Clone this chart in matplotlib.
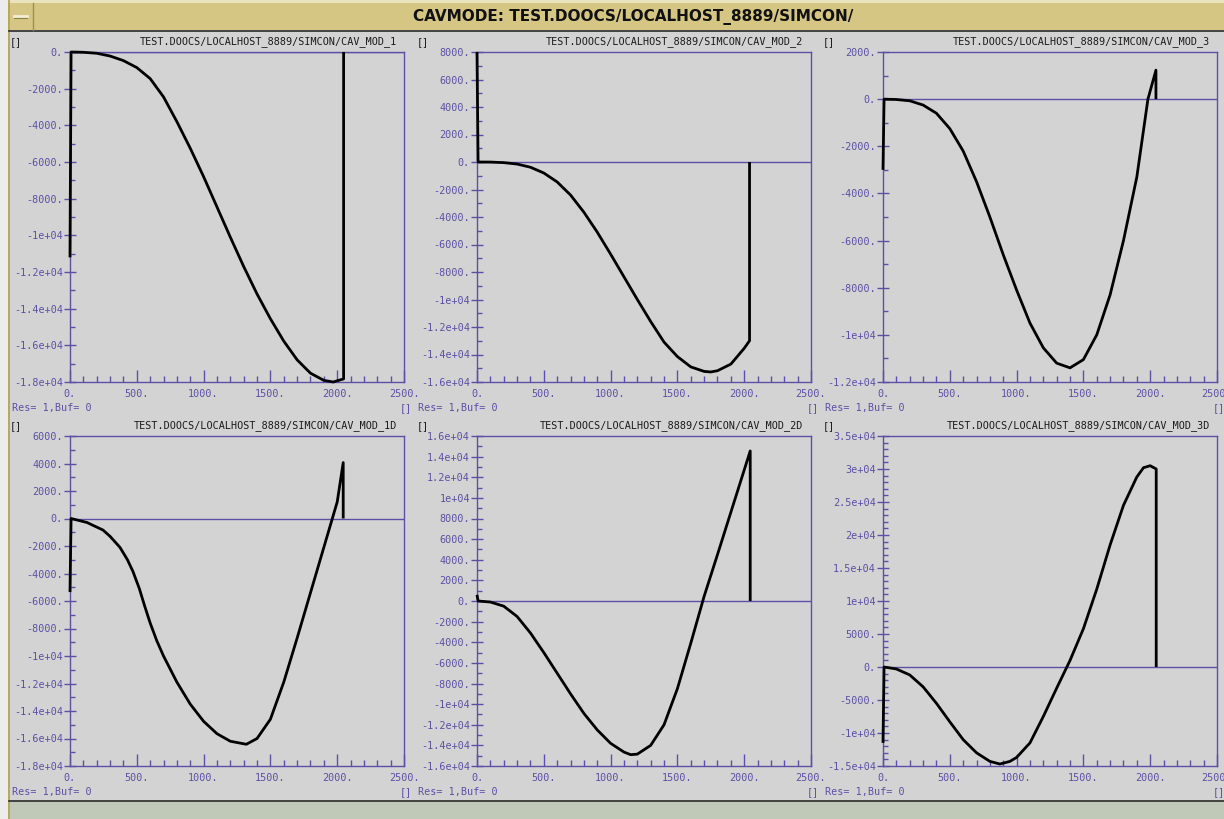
import matplotlib
matplotlib.use('Agg')
import matplotlib.pyplot as plt
from matplotlib.patches import Rectangle
from matplotlib.lines import Line2D
from matplotlib.ticker import MultipleLocator, FuncFormatter

# ---------------- data ----------------
window_title = "CAVMODE: TEST.DOOCS/LOCALHOST_8889/SIMCON/"
panel_titles = [
    "TEST.DOOCS/LOCALHOST_8889/SIMCON/CAV_MOD_1",
    "TEST.DOOCS/LOCALHOST_8889/SIMCON/CAV_MOD_2",
    "TEST.DOOCS/LOCALHOST_8889/SIMCON/CAV_MOD_3",
    "TEST.DOOCS/LOCALHOST_8889/SIMCON/CAV_MOD_1D",
    "TEST.DOOCS/LOCALHOST_8889/SIMCON/CAV_MOD_2D",
    "TEST.DOOCS/LOCALHOST_8889/SIMCON/CAV_MOD_3D",
]
status_text = "Res= 1,Buf= 0"
ylims = [(-18000, 0), (-16000, 8000), (-12000, 2000),
         (-18000, 6000), (-16000, 16000), (-15000, 35000)]
ymajor = [2000, 2000, 2000, 2000, 2000, 5000]
yminor = [1000, 1000, 1000, 1000, 1000, 1000]
xlim = (0, 2500)
xmajor = 500
xminor = 100

x_mod1 = [0, 8, 100, 200, 300, 400, 500, 600, 700, 800, 900, 1000, 1100, 1200,
          1300, 1400, 1500, 1600, 1700, 1800, 1900, 1970, 2048, 2048]
y_mod1 = [-11200, 0, -15, -70, -220, -470, -850, -1450, -2450, -3800, -5250, -6800,
          -8450, -10100, -11700, -13200, -14550, -15770, -16790, -17520, -17910,
          -18000, -17830, 0]

x_mod2 = [0, 8, 100, 200, 300, 400, 500, 600, 700, 800, 900, 1000, 1100, 1200,
          1300, 1400, 1500, 1600, 1700, 1750, 1800, 1900, 2000, 2040, 2040]
y_mod2 = [8000, 0, -5, -45, -150, -380, -800, -1450, -2400, -3650, -5100, -6700,
          -8350, -10000, -11600, -13100, -14150, -14900, -15230, -15270, -15180,
          -14700, -13550, -13000, 0]

x_mod3 = [0, 8, 100, 200, 300, 400, 500, 600, 700, 800, 900, 1000, 1100, 1200,
          1300, 1400, 1500, 1600, 1700, 1800, 1900, 1983, 2043, 2043]
y_mod3 = [-3000, 0, -15, -70, -250, -600, -1250, -2200, -3500, -5000, -6600, -8100,
          -9500, -10550, -11200, -11400, -11050, -10000, -8300, -6000, -3300, 0,
          1230, 0]

x_mod1d = [0, 8, 127, 247, 300, 374, 430, 471, 519, 560, 600, 650, 700, 800, 900,
           1000, 1100, 1200, 1320, 1400, 1500, 1600, 1700, 1800, 1900, 2000, 2045,
           2045]
y_mod1d = [-5350, 0, -290, -840, -1300, -2100, -3000, -3850, -5100, -6400, -7600,
           -8900, -10000, -11900, -13500, -14750, -15650, -16200, -16420, -16000,
           -14600, -11900, -8700, -5400, -2100, 1200, 4070, 0]

x_mod2d = [0, 8, 100, 200, 300, 400, 500, 600, 700, 800, 900, 1000, 1100, 1150,
           1200, 1300, 1400, 1500, 1600, 1700, 1800, 1900, 2000, 2045, 2045]
y_mod2d = [600, 0, -100, -500, -1500, -3100, -5000, -7000, -9000, -10900, -12500,
           -13800, -14650, -14900, -14850, -14000, -12000, -8500, -4100, 450, 4500,
           8600, 12700, 14550, 0]

x_mod3d = [0, 8, 100, 200, 300, 400, 500, 600, 700, 800, 875, 950, 1000, 1100,
           1200, 1300, 1400, 1500, 1600, 1700, 1800, 1900, 1950, 2000, 2045, 2045]
y_mod3d = [-11500, 0, -300, -1200, -3000, -5500, -8300, -11000, -13000, -14300,
           -14700, -14300, -13700, -11500, -7500, -3200, 1000, 5800, 11800, 18500,
           24500, 28800, 30200, 30500, 30000, 0]

series = [(x_mod1, y_mod1), (x_mod2, y_mod2), (x_mod3, y_mod3),
          (x_mod1d, y_mod1d), (x_mod2d, y_mod2d), (x_mod3d, y_mod3d)]

# ---------------- style ----------------
W, H = 1224, 819
PURPLE = '#5b50a6'
GRAY = '#d3d3d3'
TAN = '#d6c683'
MONO = 'DejaVu Sans Mono'
FS = 7.3

plt.rcParams['font.family'] = [MONO]

fig = plt.figure(figsize=(W / 100, H / 100), dpi=100)
fig.patch.set_facecolor(GRAY)

bg = fig.add_axes([0, 0, 1, 1], zorder=0)
bg.set_xlim(0, W)
bg.set_ylim(H, 0)
bg.axis('off')

# window decoration
bg.add_patch(Rectangle((0, 0), W, H, color=GRAY, lw=0))
bg.add_patch(Rectangle((0, 0), 8, H, color='#ececec', lw=0))
bg.add_patch(Rectangle((8, 0), W - 8, 3, color='#ebe3bd', lw=0))
bg.add_patch(Rectangle((8, 3), W - 8, 27, color=TAN, lw=0))
bg.add_patch(Rectangle((9, 801), W - 9, 18, color='#c0c8b8', lw=0))
bg.add_line(Line2D([8.5, 8.5], [0, H], color='#b0a05a', lw=1.2))
bg.add_line(Line2D([9, W], [30.5, 30.5], color='#2a2a2a', lw=1.2))
bg.add_line(Line2D([9, W], [800.5, 800.5], color='#2a2a2a', lw=1.2))
bg.add_line(Line2D([32.5, 32.5], [3, 30], color='#9c8f50', lw=1))
bg.add_line(Line2D([14, 27], [16, 16], color='#f4eed6', lw=2))
bg.add_line(Line2D([14, 27], [17.5, 17.5], color='#8c8048', lw=0.8))
bg.text(633, 17, window_title, ha='center', va='center', fontsize=11,
        fontweight='bold', family='DejaVu Sans', color='#111111')

col_x = [70, 477, 883]
row_top = [52, 436]
AW, AH = 334, 330


def yfmt(v, pos):
    if abs(v) < 1e4:
        return '%d.' % round(v)
    return '%ge+04' % (v / 1e4)


def xfmt(v, pos):
    return '%d.' % round(v)


for i, (xs, ys) in enumerate(series):
    r, c = divmod(i, 3)
    x0 = col_x[c]
    top = row_top[r]
    ax = fig.add_axes([x0 / W, (H - top - AH) / H, AW / W, AH / H], zorder=2)
    ax.set_facecolor(GRAY)
    ax.set_xlim(*xlim)
    ax.set_ylim(*ylims[i])
    for s in ax.spines.values():
        s.set_color(PURPLE)
        s.set_linewidth(1)
    ax.xaxis.set_major_locator(MultipleLocator(xmajor))
    ax.xaxis.set_minor_locator(MultipleLocator(xminor))
    ax.yaxis.set_major_locator(MultipleLocator(ymajor[i]))
    ax.yaxis.set_minor_locator(MultipleLocator(yminor[i]))
    ax.xaxis.set_major_formatter(FuncFormatter(xfmt))
    ax.yaxis.set_major_formatter(FuncFormatter(yfmt))
    ax.tick_params(axis='x', which='major', direction='in', length=9, width=1,
                   color=PURPLE, labelcolor=PURPLE, labelsize=FS, pad=5)
    ax.tick_params(axis='x', which='minor', direction='in', length=4.5, width=1,
                   color=PURPLE)
    ax.tick_params(axis='y', which='major', direction='inout', length=9, width=1,
                   color=PURPLE, labelcolor=PURPLE, labelsize=FS, pad=0.5)
    ax.tick_params(axis='y', which='minor', direction='in', length=3.5, width=1,
                   color=PURPLE)
    ax.axhline(0, color=PURPLE, lw=1, zorder=1)
    ax.plot(xs, ys, color='black', lw=2.0, solid_joinstyle='round',
            solid_capstyle='butt', clip_on=False, zorder=3)

    # panel texts
    off_x = c * 406.5
    off_y = r * 384
    bg.text(10 + off_x, 42 + off_y, '[]', ha='left', va='center', fontsize=FS,
            color='#1a1a1a')
    bg.text(397 + off_x, 42 + off_y, panel_titles[i], ha='right', va='center',
            fontsize=FS, color='#1a1a1a')
    bg.text(12 + off_x, 408 + off_y, status_text, ha='left', va='center',
            fontsize=FS, color=PURPLE)
    bg.text(400 + off_x, 408 + off_y, '[]', ha='left', va='center',
            fontsize=FS, color=PURPLE)

fig.savefig('out.png', dpi=100, facecolor=fig.get_facecolor())
